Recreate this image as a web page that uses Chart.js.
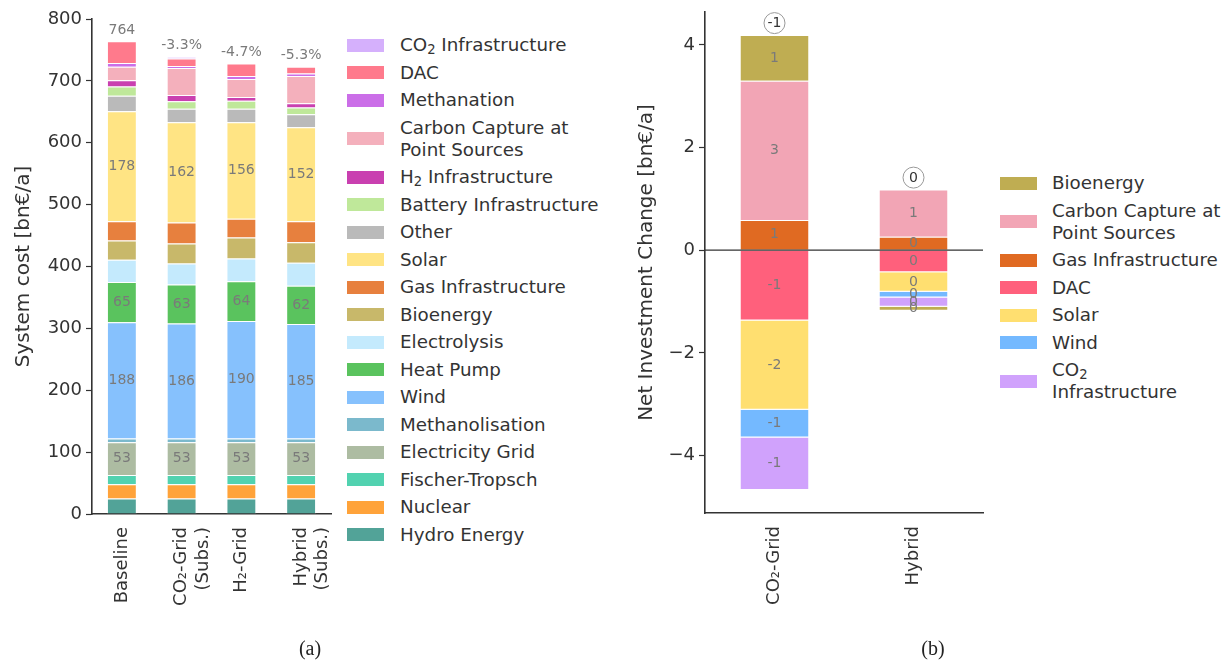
<!DOCTYPE html>
<html><head><meta charset="utf-8">
<script src="https://cdn.jsdelivr.net/npm/chart.js@4"></script>
<style>
body{margin:0;background:#fff;width:1231px;height:662px;overflow:hidden;position:relative;font-family:"DejaVu Sans",sans-serif;color:#333}
canvas{position:absolute}
#cA{left:0;top:0}
#cB{left:600px;top:0}
.legend{position:absolute;font-size:18.3px;line-height:22px;color:#333;white-space:nowrap}
.item{display:flex;align-items:center;margin-bottom:5.5px}
.box{width:37px;height:13px;flex:none}
sub{font-size:0.72em;line-height:0;vertical-align:-0.25em}
.caption{position:absolute;font-family:"Liberation Serif","DejaVu Serif",serif;font-size:20px;color:#222;transform:translate(-50%,-50%)}
</style></head>
<body>
<canvas id="cA" width="340" height="640"></canvas>
<canvas id="cB" width="390" height="640"></canvas>
<div class="legend" id="legA" style="left:347px;top:34px"></div>
<div class="legend" id="legB" style="left:1000px;top:172px"></div>
<div class="caption" style="left:310px;top:648px">(a)</div>
<div class="caption" style="left:933px;top:648px">(b)</div>
<script>
// ---------- Panel (a): system cost ----------
const scenariosA = ['Baseline', ['CO₂-Grid', '(Subs.)'], 'H₂-Grid', ['Hybrid', '(Subs.)']];
const topLabelsA = ['764', '-3.3%', '-4.7%', '-5.3%'];
// stacked bottom -> top
const hydro          = [25, 25, 25, 25];
const nuclear        = [23, 23, 23, 23];
const fischerTropsch = [15, 15, 15, 15];
const elecGrid       = [53, 53, 53, 53];
const methanolisation= [6, 6, 6, 6];
const wind           = [188, 186, 190, 185];
const heatPump       = [65, 63, 64, 62];
const electrolysis   = [36, 34, 37, 37];
const bioenergy      = [31, 32, 34, 33];
const gasInfra       = [31, 34, 30, 34];
const solar          = [178, 162, 156, 152];
const other          = [25, 22, 22, 21];
const battery        = [15, 12, 13, 11];
const h2Infra        = [10, 10, 6, 7];
const carbonCapture  = [22, 44, 29, 44];
const methanation    = [6, 3, 5, 4];
const dac            = [35, 12, 20, 11];
const co2Infra       = [0, 3, 0, 0];

const seriesA = [
  ['Hydro Energy', 'Hydro Energy', hydro, '#52a398'],
  ['Nuclear', 'Nuclear', nuclear, '#ffa33a'],
  ['Fischer-Tropsch', 'Fischer-Tropsch', fischerTropsch, '#52d2b0'],
  ['Electricity Grid', 'Electricity Grid', elecGrid, '#adbca2'],
  ['Methanolisation', 'Methanolisation', methanolisation, '#7bb9cc'],
  ['Wind', 'Wind', wind, '#86c1fd'],
  ['Heat Pump', 'Heat Pump', heatPump, '#5ac35e'],
  ['Electrolysis', 'Electrolysis', electrolysis, '#c4eafd'],
  ['Bioenergy', 'Bioenergy', bioenergy, '#c8b86a'],
  ['Gas Infrastructure', 'Gas Infrastructure', gasInfra, '#e7803e'],
  ['Solar', 'Solar', solar, '#ffe484'],
  ['Other', 'Other', other, '#bababa'],
  ['Battery Infrastructure', 'Battery Infrastructure', battery, '#bfe89a'],
  ['H2 Infrastructure', 'H<sub>2</sub> Infrastructure', h2Infra, '#c940b0'],
  ['Carbon Capture at Point Sources', 'Carbon Capture at<br>Point Sources', carbonCapture, '#f4b0bc'],
  ['Methanation', 'Methanation', methanation, '#cb6ee8'],
  ['DAC', 'DAC', dac, '#ff7a8c'],
  ['CO2 Infrastructure', 'CO<sub>2</sub> Infrastructure', co2Infra, '#d5b0fc']
];

// ---------- Panel (b): net investment change ----------
const scenariosB = ['CO₂-Grid', 'Hybrid'];
const netLabelsB = ['-1', '0'];
const dGas     = [0.59, 0.26];
const dCC      = [2.71, 0.92];
const dDAC     = [-1.37, -0.43];
const dSolar   = [-1.74, -0.38];
const dWind    = [-0.54, -0.11];
const dCO2     = [-1.02, -0.18];
const dBio     = [0.89, -0.08];

const seriesB = [
  ['Gas Infrastructure', dGas, '#e06a22'],
  ['Carbon Capture at Point Sources', dCC, '#f2a5b5'],
  ['DAC', dDAC, '#ff607c'],
  ['Solar', dSolar, '#ffdf70'],
  ['Wind', dWind, '#74b9ff'],
  ['CO2 Infrastructure', dCO2, '#d0a2fc'],
  ['Bioenergy', dBio, '#bfad52']
];
const legendBOrder = [
  ['Bioenergy', '#bfad52'],
  ['Carbon Capture at<br>Point Sources', '#f2a5b5'],
  ['Gas Infrastructure', '#e06a22'],
  ['DAC', '#ff607c'],
  ['Solar', '#ffdf70'],
  ['Wind', '#74b9ff'],
  ['CO<sub>2</sub><br>Infrastructure', '#d0a2fc']
];

Chart.defaults.font.family = "'DejaVu Sans', sans-serif";
Chart.defaults.color = '#333';
Chart.defaults.devicePixelRatio = 1;

// legends (HTML)
function buildLegend(el, items, gap) {
  el.innerHTML = items.map(([t, c]) =>
    `<div class="item"><div class="box" style="background:${c};margin-right:${gap}px"></div><div>${t}</div></div>`).join('');
}
buildLegend(document.getElementById('legA'), seriesA.slice().reverse().map(s => [s[1], s[3]]), 16);
buildLegend(document.getElementById('legB'), legendBOrder, 15);

const segLabelPlugin = (threshold) => ({
  id: 'segLabels',
  afterDatasetsDraw(chart) {
    const ctx = chart.ctx;
    ctx.save();
    ctx.font = "14px 'DejaVu Sans'";
    ctx.fillStyle = '#7a7a7a';
    ctx.textAlign = 'center';
    ctx.textBaseline = 'middle';
    chart.data.datasets.forEach((ds, di) => {
      const meta = chart.getDatasetMeta(di);
      meta.data.forEach((el, i) => {
        const v = ds.data[i];
        if (v === 0 || Math.abs(v) < threshold) return;
        ctx.fillText(String(Math.round(v)), el.x, (el.y + el.base) / 2);
      });
    });
    ctx.restore();
  }
});

const totalsPlugin = {
  id: 'totalsA',
  afterDatasetsDraw(chart) {
    const ctx = chart.ctx, y = chart.scales.y;
    ctx.save();
    ctx.font = "14px 'DejaVu Sans'";
    ctx.fillStyle = '#7a7a7a';
    ctx.textAlign = 'center';
    ctx.textBaseline = 'middle';
    chart.data.labels.forEach((_, i) => {
      let tot = 0;
      chart.data.datasets.forEach(ds => tot += ds.data[i]);
      const x = chart.getDatasetMeta(0).data[i].x;
      ctx.fillText(topLabelsA[i], x, y.getPixelForValue(tot) - 11);
    });
    ctx.restore();
  }
};

const barBorder = {borderWidth: 1, borderColor: 'rgba(255,255,255,0.5)'};
const fitX = h => s => { s.height = h; s.paddingLeft = 0; s.paddingRight = 0; };

new Chart(document.getElementById('cA'), {
  type: 'bar',
  data: {
    labels: scenariosA,
    datasets: seriesA.map(s => Object.assign({label: s[0], data: s[2], backgroundColor: s[3]}, barBorder))
  },
  options: {
    responsive: false, animation: false,
    layout: {padding: {top: 19, right: 9, left: 0, bottom: 0}},
    datasets: {bar: {barPercentage: 0.5, categoryPercentage: 1.0}},
    plugins: {legend: {display: false}, tooltip: {enabled: false}},
    scales: {
      x: {
        stacked: true,
        grid: {display: false},
        border: {display: true, color: '#333', width: 1.6},
        ticks: {minRotation: 90, maxRotation: 90, padding: 5, color: '#333', font: {size: 18}},
        afterFit: fitX(126)
      },
      y: {
        stacked: true, min: 0, max: 800,
        grid: {drawOnChartArea: false, tickLength: 6, color: '#333', tickWidth: 1.2},
        border: {display: true, color: '#333', width: 1.6},
        ticks: {stepSize: 100, padding: 4, color: '#333', font: {size: 18}},
        title: {display: true, text: 'System cost [bn€/a]', color: '#333', font: {size: 20}, padding: {top: 12, bottom: 0}},
        afterFit: s => { s.width = 92; s.paddingTop = 0; s.paddingBottom = 0; }
      }
    }
  },
  plugins: [segLabelPlugin(50), totalsPlugin]
});

const zeroLinePlugin = {
  id: 'zeroLine',
  afterDatasetsDraw(chart) {
    const ctx = chart.ctx, y = chart.scales.y.getPixelForValue(0), a = chart.chartArea;
    ctx.save();
    ctx.strokeStyle = '#333';
    ctx.lineWidth = 1.2;
    ctx.beginPath(); ctx.moveTo(a.left, y); ctx.lineTo(a.right, y); ctx.stroke();
    ctx.restore();
  }
};
const netPlugin = {
  id: 'netB',
  afterDatasetsDraw(chart) {
    const ctx = chart.ctx, y = chart.scales.y;
    ctx.save();
    ctx.font = "14px 'DejaVu Sans'";
    ctx.textAlign = 'center';
    ctx.textBaseline = 'middle';
    chart.data.labels.forEach((_, i) => {
      let pos = 0;
      chart.data.datasets.forEach(ds => { if (ds.data[i] > 0) pos += ds.data[i]; });
      const x = chart.getDatasetMeta(0).data[i].x;
      const cy = y.getPixelForValue(pos) - 12;
      ctx.beginPath(); ctx.arc(x, cy, 10.5, 0, Math.PI * 2);
      ctx.fillStyle = '#fff'; ctx.fill();
      ctx.strokeStyle = '#999'; ctx.lineWidth = 1; ctx.stroke();
      ctx.fillStyle = '#333';
      ctx.fillText(netLabelsB[i], x, cy + 0.5);
    });
    ctx.restore();
  }
};

new Chart(document.getElementById('cB'), {
  type: 'bar',
  data: {
    labels: scenariosB,
    datasets: seriesB.map(s => Object.assign({label: s[0], data: s[1], backgroundColor: s[2]}, barBorder))
  },
  options: {
    responsive: false, animation: false,
    layout: {padding: {top: 12, right: 7, left: 0, bottom: 0}},
    datasets: {bar: {barPercentage: 0.5, categoryPercentage: 1.0}},
    plugins: {legend: {display: false}, tooltip: {enabled: false}},
    scales: {
      x: {
        stacked: true,
        grid: {display: false},
        border: {display: true, color: '#333', width: 1.6},
        ticks: {minRotation: 90, maxRotation: 90, padding: 5, color: '#333', font: {size: 18}},
        afterFit: fitX(127)
      },
      y: {
        stacked: true, min: -5.12, max: 4.64,
        grid: {drawOnChartArea: false, tickLength: 6, color: '#333', tickWidth: 1.2},
        border: {display: true, color: '#333', width: 1.6},
        ticks: {stepSize: 2, includeBounds: false, padding: 4, color: '#333', font: {size: 18},
          callback: v => v < 0 ? '−' + Math.abs(v) : String(v)},
        title: {display: true, text: 'Net Investment Change [bn€/a]', color: '#333', font: {size: 20}, padding: {top: 35, bottom: 0}},
        afterFit: s => { s.width = 105; s.paddingTop = 0; s.paddingBottom = 0; }
      }
    }
  },
  plugins: [segLabelPlugin(0), zeroLinePlugin, netPlugin]
});
</script>
</body></html>
